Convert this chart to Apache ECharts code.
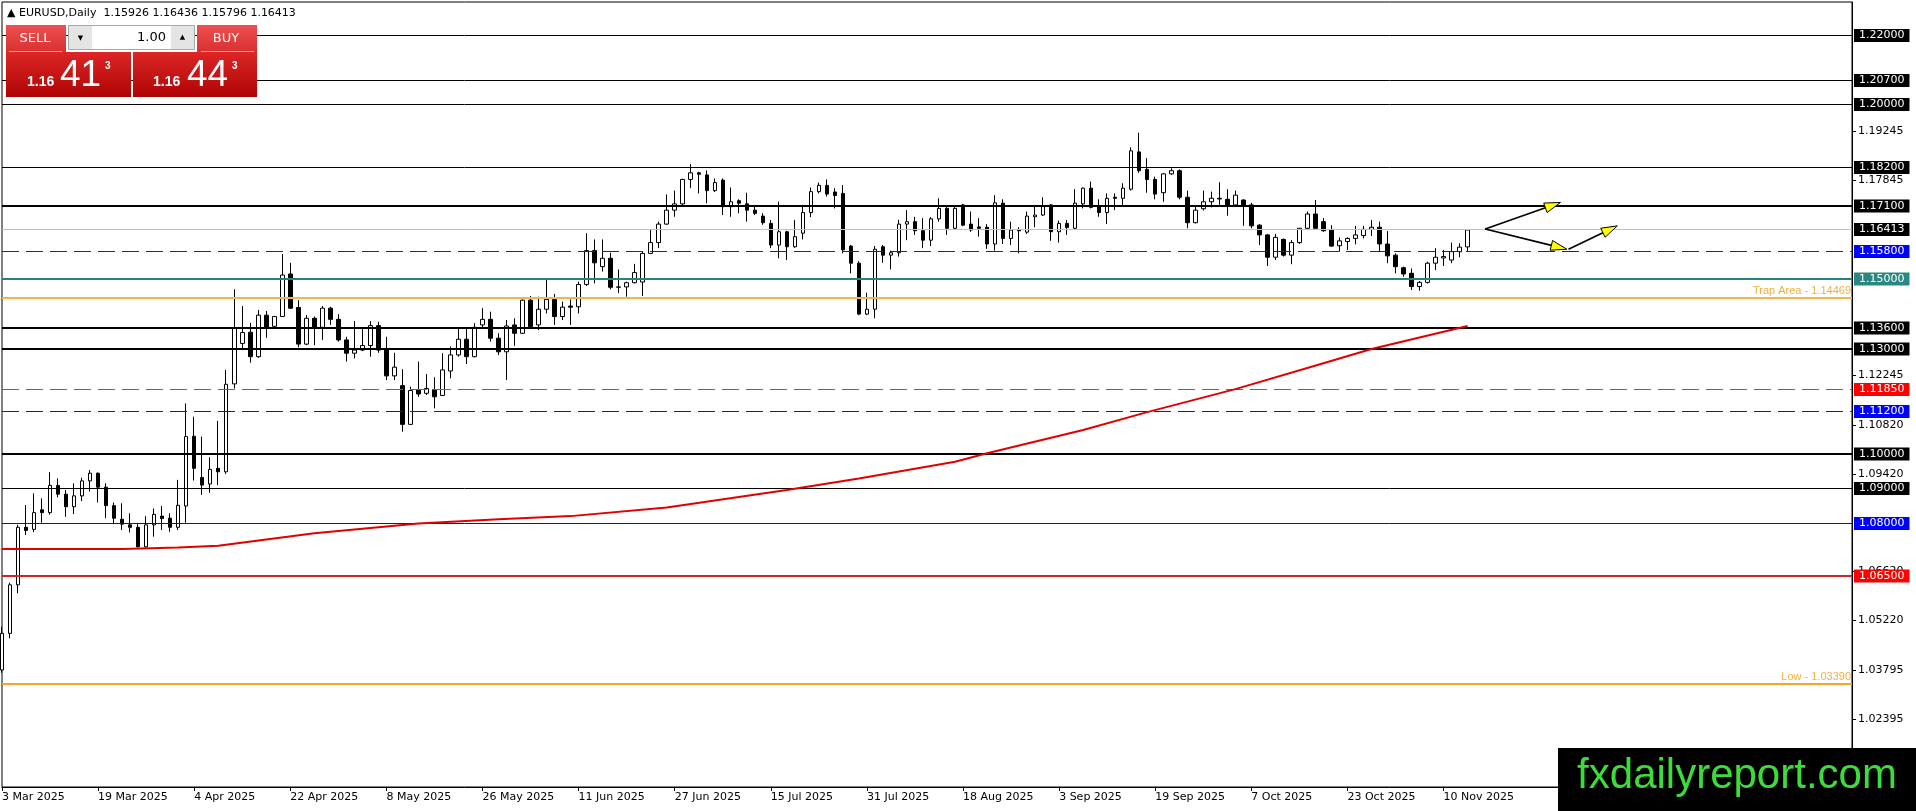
<!DOCTYPE html>
<html>
<head>
<meta charset="utf-8">
<script src="https://cdn.jsdelivr.net/npm/echarts@6.0.0/dist/echarts.min.js"></script>
<style>
  html, body { margin: 0; padding: 0; background: #fff; }
  #main { width: 1916px; height: 811px; }
</style>
</head>
<body>
<div id="main"></div>
<script>
// EURUSD daily bars, 3 Mar 2025 .. 13 Nov 2025 (weekdays)
const symbolName = 'EURUSD';
const periodName = 'Daily';
const firstDay = '2025-03-03';
const slotCount = 232;           // bars + empty space on the right

const openP = [
  1.0380,1.0485,1.0624,1.0789,1.0783,1.0839,1.0831,1.0909,1.0884,1.0848,1.0879,1.0922,
  1.0944,1.0904,1.0851,1.0812,1.0796,1.0789,1.0733,1.0796,1.0821,1.0815,1.0789,1.0850,
  1.1050,1.0932,1.0913,1.0958,1.0948,1.1200,1.1316,1.1348,1.1278,1.1397,1.1365,1.1393,
  1.1515,1.1419,1.1314,1.1388,1.1362,1.1417,1.1385,1.1326,1.1288,1.1297,1.1310,1.1367,
  1.1298,1.1223,1.1195,1.1084,1.1183,1.1173,1.1183,1.1167,1.1237,1.1283,1.1328,1.1278,
  1.1369,1.1385,1.1331,1.1292,1.1369,1.1345,1.1440,1.1369,1.1414,1.1442,1.1393,1.1423,
  1.1421,1.1485,1.1582,1.1536,1.1560,1.1477,1.1478,1.1490,1.1492,1.1574,1.1605,1.1658,
  1.1698,1.1716,1.1786,1.1805,1.1799,1.1754,1.1784,1.1708,1.1725,1.1716,1.1698,1.1681,
  1.1660,1.1598,1.1636,1.1593,1.1632,1.1691,1.1751,1.1769,1.1750,1.1746,1.1595,1.1546,
  1.1400,1.1414,1.1593,1.1569,1.1576,1.1658,1.1665,1.1639,1.1612,1.1673,1.1703,1.1646,
  1.1713,1.1658,1.1650,1.1649,1.1601,1.1718,1.1617,1.1642,1.1635,1.1679,1.1684,1.1713,
  1.1636,1.1660,1.1646,1.1716,1.1761,1.1710,1.1691,1.1735,1.1732,1.1758,1.1865,1.1815,
  1.1786,1.1748,1.1802,1.1811,1.1735,1.1662,1.1702,1.1722,1.1732,1.1729,1.1713,1.1727,
  1.1713,1.1655,1.1627,1.1563,1.1614,1.1569,1.1605,1.1646,1.1687,1.1665,1.1641,1.1596,
  1.1608,1.1617,1.1625,1.1643,1.1649,1.1601,1.1569,1.1533,1.1517,1.1479,1.1491,1.1546,
  1.1561,1.1555,1.1579,1.15926
];
const highP = [
  1.0504,1.0630,1.0796,1.0853,1.0886,1.0872,1.0947,1.0929,1.0896,1.0915,1.0931,1.0953,
  1.0946,1.0915,1.0860,1.0858,1.0829,1.0800,1.0821,1.0843,1.0850,1.0829,1.0925,1.1144,
  1.1106,1.1049,1.0990,1.1094,1.1240,1.1471,1.1423,1.1375,1.1412,1.1409,1.1395,1.1572,
  1.1547,1.1440,1.1397,1.1393,1.1423,1.1421,1.1400,1.1335,1.1380,1.1357,1.1380,1.1378,
  1.1335,1.1289,1.1242,1.1192,1.1264,1.1228,1.1219,1.1288,1.1307,1.1359,1.1359,1.1374,
  1.1417,1.1407,1.1345,1.1383,1.1388,1.1442,1.1452,1.1450,1.1498,1.1458,1.1436,1.1442,
  1.1493,1.1632,1.1614,1.1614,1.1576,1.1528,1.1493,1.1544,1.1579,1.1641,1.1665,1.1743,
  1.1754,1.1788,1.1830,1.1808,1.1812,1.1789,1.1789,1.1763,1.1729,1.1748,1.1708,1.1689,
  1.1670,1.1722,1.1639,1.1670,1.1713,1.1763,1.1777,1.1786,1.1761,1.1770,1.1598,1.1552,
  1.1461,1.1595,1.1598,1.1582,1.1670,1.1698,1.1679,1.1675,1.1678,1.1732,1.1708,1.1710,
  1.1716,1.1694,1.1675,1.1658,1.1741,1.1729,1.1665,1.1649,1.1694,1.1710,1.1735,1.1715,
  1.1668,1.1670,1.1758,1.1763,1.1780,1.1729,1.1746,1.1746,1.1775,1.1878,1.1920,1.1847,
  1.1794,1.1804,1.1818,1.1815,1.1754,1.1708,1.1754,1.1751,1.1778,1.1758,1.1754,1.1729,
  1.1719,1.1658,1.1630,1.1630,1.1617,1.1612,1.1647,1.1694,1.1727,1.1675,1.1655,1.1620,
  1.1620,1.1653,1.1653,1.1670,1.1665,1.1638,1.1574,1.1536,1.1531,1.1495,1.1550,1.1589,
  1.1584,1.1605,1.1603,1.16436
];
const lowP = [
  1.0372,1.0471,1.0600,1.0767,1.0775,1.0802,1.0825,1.0875,1.0819,1.0827,1.0864,1.0891,
  1.0860,1.0815,1.0798,1.0781,1.0774,1.0731,1.0730,1.0762,1.0781,1.0776,1.0781,1.0802,
  1.0923,1.0882,1.0888,1.0910,1.0942,1.1187,1.1297,1.1261,1.1275,1.1332,1.1363,1.1392,
  1.1415,1.1305,1.1311,1.1311,1.1326,1.1369,1.1321,1.1264,1.1273,1.1294,1.1278,1.1289,
  1.1211,1.1211,1.1063,1.1082,1.1163,1.1168,1.1130,1.1165,1.1216,1.1278,1.1257,1.1276,
  1.1360,1.1321,1.1283,1.1211,1.1309,1.1343,1.1359,1.1354,1.1402,1.1369,1.1383,1.1369,
  1.1402,1.1481,1.1488,1.1522,1.1471,1.1460,1.1450,1.1488,1.1452,1.1572,1.1589,1.1656,
  1.1679,1.1707,1.1761,1.1746,1.1718,1.1750,1.1684,1.1679,1.1689,1.1665,1.1684,1.1656,
  1.1589,1.1560,1.1555,1.1590,1.1614,1.1678,1.1746,1.1737,1.1703,1.1574,1.1517,1.1397,
  1.1397,1.1388,1.1547,1.1528,1.1565,1.1612,1.1627,1.1589,1.1595,1.1665,1.1627,1.1641,
  1.1652,1.1636,1.1622,1.1587,1.1582,1.1601,1.1598,1.1574,1.1630,1.1649,1.1681,1.1610,
  1.1605,1.1627,1.1643,1.1703,1.1703,1.1679,1.1658,1.1698,1.1710,1.1754,1.1805,1.1748,
  1.1729,1.1722,1.1799,1.1729,1.1646,1.1660,1.1697,1.1706,1.1713,1.1682,1.1710,1.1653,
  1.1646,1.1598,1.1538,1.1555,1.1565,1.1543,1.1601,1.1641,1.1645,1.1636,1.1593,1.1579,
  1.1584,1.1600,1.1617,1.1624,1.1579,1.1546,1.1517,1.1507,1.1469,1.1467,1.1488,1.1526,
  1.1538,1.1546,1.1563,1.15796
];
const closeP = [
  1.0485,1.0624,1.0789,1.0780,1.0831,1.0831,1.0909,1.0884,1.0848,1.0879,1.0922,1.0944,
  1.0904,1.0851,1.0815,1.0798,1.0789,1.0733,1.0796,1.0826,1.0814,1.0789,1.0852,1.1049,
  1.0958,1.0910,1.0955,1.0948,1.1199,1.1359,1.1347,1.1278,1.1397,1.1362,1.1393,1.1512,
  1.1417,1.1314,1.1388,1.1362,1.1417,1.1385,1.1326,1.1288,1.1297,1.1310,1.1367,1.1297,
  1.1223,1.1248,1.1084,1.1181,1.1171,1.1187,1.1163,1.1240,1.1283,1.1328,1.1278,1.1362,
  1.1385,1.1331,1.1292,1.1366,1.1345,1.1440,1.1364,1.1414,1.1442,1.1393,1.1420,1.1420,
  1.1485,1.1582,1.1547,1.1560,1.1477,1.1478,1.1490,1.1519,1.1574,1.1605,1.1658,1.1698,
  1.1716,1.1786,1.1805,1.1801,1.1754,1.1777,1.1708,1.1722,1.1718,1.1698,1.1689,1.1662,
  1.1598,1.1636,1.1593,1.1622,1.1691,1.1751,1.1769,1.1744,1.1740,1.1584,1.1546,1.1400,
  1.1414,1.1586,1.1569,1.1576,1.1658,1.1665,1.1639,1.1612,1.1673,1.1703,1.1646,1.1703,
  1.1655,1.1641,1.1646,1.1601,1.1719,1.1617,1.1641,1.1639,1.1681,1.1684,1.1710,1.1636,
  1.1660,1.1648,1.1718,1.1761,1.1706,1.1691,1.1732,1.1732,1.1761,1.1868,1.1811,1.1786,
  1.1744,1.1802,1.1811,1.1735,1.1662,1.1698,1.1722,1.1732,1.1730,1.1713,1.1741,1.1713,
  1.1653,1.1627,1.1563,1.1620,1.1569,1.1605,1.1646,1.1687,1.1646,1.1639,1.1595,1.1610,
  1.1617,1.1627,1.1643,1.1649,1.1601,1.1567,1.1536,1.1515,1.1479,1.1491,1.1546,1.1563,
  1.1565,1.1579,1.1592,1.16413
];

// moving average read at a few bars
const maBar   = [0, 15, 22, 27, 39, 52, 62, 71, 83, 98, 107, 119, 123, 135, 143, 154, 165, 171, 183];
const maValue = [1.0727, 1.0727, 1.0731, 1.0736, 1.0772, 1.0800, 1.0812, 1.0821, 1.0846, 1.0896,
                 1.0929, 1.0977, 1.1001, 1.1068, 1.1119, 1.1185, 1.1259, 1.1300, 1.1366];

// horizontal levels
const levelPrices = [1.22000, 1.20700, 1.20000, 1.18200, 1.17100, 1.16413, 1.15800, 1.15000, 1.14469,
                     1.13600, 1.13000, 1.11850, 1.11200, 1.10000, 1.09000, 1.08000, 1.06500, 1.03390];
const levelNotes  = [null, null, null, null, null, null, null, null, 'Trap Area - 1.14469',
                     null, null, null, null, null, null, null, null, 'Low - 1.03390'];
const levelStyles = [
  { color: '#000000', width: 1, box: '#000000' },
  { color: '#000000', width: 1, box: '#000000' },
  { color: '#000000', width: 1, box: '#000000' },
  { color: '#000000', width: 1, box: '#000000' },
  { color: '#000000', width: 2, box: '#000000' },
  { color: '#c0c0c0', width: 1, box: '#000000' },
  { color: '#1c1cb0', width: 1, box: '#0000ff', dash: true },
  { color: '#2a8080', width: 2, box: '#2a8882' },
  { color: '#f0b848', width: 2, note: '#f0b040' },
  { color: '#000000', width: 2, box: '#000000' },
  { color: '#000000', width: 2, box: '#000000' },
  { color: '#d03c3c', width: 1, box: '#ff0000', dash: true },
  { color: '#1a1aa0', width: 1, box: '#0000ff', dash: true },
  { color: '#000000', width: 2, box: '#000000' },
  { color: '#000000', width: 1, box: '#000000' },
  { color: '#1010a0', width: 1, box: '#0000ff' },
  { color: '#d22424', width: 2, box: '#ff0000' },
  { color: '#f5a52a', width: 2, note: '#f5b040' }
];

const priceTicks = [1.19245, 1.17845, 1.12245, 1.10820, 1.09420, 1.06620, 1.05220, 1.03795, 1.02395];
const yMin = 1.00446, yMax = 1.22946;

// arrows: [barFrom, priceFrom, barTo, priceTo]
const arrowSegments = [
  [185.2, 1.1644, 194.6, 1.1720],
  [185.2, 1.1644, 195.4, 1.1586],
  [195.6, 1.1586, 201.7, 1.1653]
];

const bidPrice = 1.16413, askPrice = 1.16443, lotText = '1.00';

// ---------------------------------------------------------------
const monthNames = ['Jan','Feb','Mar','Apr','May','Jun','Jul','Aug','Sep','Oct','Nov','Dec'];
function tradingDays(start, n) {
  const out = [];
  const d = new Date(start + 'T00:00:00Z');
  while (out.length < n) {
    const wd = d.getUTCDay();
    if (wd !== 0 && wd !== 6) {
      out.push(d.getUTCDate() + ' ' + monthNames[d.getUTCMonth()] + ' ' + d.getUTCFullYear());
    }
    d.setUTCDate(d.getUTCDate() + 1);
  }
  return out;
}
const dates = tradingDays(firstDay, slotCount);
const lastBar = openP.length - 1;
const candles = openP.map((o, i) => [o, closeP[i], lowP[i], highP[i]]);
const showDate = (index) => index % 12 === 0 && index <= lastBar;

function crisp(y, w) {
  return w % 2 ? Math.round(y - 0.5) + 0.5 : Math.round(y);
}

function levelItem(params, api) {
  const k = params.dataIndex;
  const s = levelStyles[k];
  const cs = params.coordSys;
  const y = crisp(api.coord([0, levelPrices[k]])[1], s.width);
  const x0 = cs.x, x1 = cs.x + cs.width;
  const children = [{
    type: 'line',
    shape: { x1: x0, y1: y, x2: x1, y2: y },
    style: { stroke: s.color, lineWidth: s.width, lineDash: s.dash ? [17, 7] : null }
  }];
  if (levelNotes[k]) {
    children.push({ type: 'text', x: x1 - 1, y: y - s.width / 2 - 1,
      style: { text: levelNotes[k], fill: s.note, font: '11px "Liberation Sans"',
        align: 'right', textAlign: 'right', verticalAlign: 'bottom', textVerticalAlign: 'bottom' } });
  } else {
    children.push({ type: 'text', x: x1 + 2, y: y,
      style: { text: levelPrices[k].toFixed(5), fill: '#ffffff', backgroundColor: s.box,
        padding: [1, 5, 0, 5], lineHeight: 12, font: '11px "DejaVu Sans"',
        align: 'left', textAlign: 'left', verticalAlign: 'middle', textVerticalAlign: 'middle' } });
  }
  return { type: 'group', children: children };
}

function toPixel(api, x, y) {
  const i = Math.floor(x), f = x - i;
  const a = api.coord([i, y]);
  const b = api.coord([i + 1, y]);
  return [a[0] + (b[0] - a[0]) * f, a[1]];
}

function arrowItem(params, api) {
  const seg = arrowSegments[params.dataIndex];
  const p0 = toPixel(api, seg[0], seg[1]);
  const p1 = toPixel(api, seg[2], seg[3]);
  const dx = p1[0] - p0[0], dy = p1[1] - p0[1];
  const len = Math.sqrt(dx * dx + dy * dy);
  const ux = dx / len, uy = dy / len;
  const head = 16, half = 5;
  const bx = p1[0] - ux * head, by = p1[1] - uy * head;
  return {
    type: 'group',
    children: [
      { type: 'line', shape: { x1: p0[0], y1: p0[1], x2: bx, y2: by },
        style: { stroke: '#000', lineWidth: 1.6 } },
      { type: 'polygon',
        shape: { points: [[p1[0], p1[1]], [bx - uy * half, by + ux * half], [bx + uy * half, by - ux * half]] },
        style: { fill: '#ffff00', stroke: '#000', lineWidth: 1 } }
    ]
  };
}

// one-click trading panel
const bidStr = bidPrice.toFixed(5), askStr = askPrice.toFixed(5);
const topGrad = new echarts.graphic.LinearGradient(0, 0, 0, 1, [
  { offset: 0, color: '#ee5050' }, { offset: 1, color: '#d83030' }]);
const priceGrad = new echarts.graphic.LinearGradient(0, 0, 0, 1, [
  { offset: 0, color: '#dd2626' }, { offset: 1, color: '#b00404' }]);
function txt(x, y, text, font, align, color) {
  return { type: 'text', x: x, y: y, z: 102, silent: true,
    style: { text: text, font: font, fill: color || '#fff',
      align: align || 'left', textAlign: align || 'left',
      verticalAlign: 'middle', textVerticalAlign: 'middle' } };
}
const panel = [
  { type: 'rect', z: 100, shape: { x: 6, y: 25, width: 60, height: 27 }, style: { fill: topGrad } },
  { type: 'rect', z: 100, shape: { x: 197, y: 25, width: 60, height: 27 }, style: { fill: topGrad } },
  { type: 'rect', z: 100, shape: { x: 6, y: 52, width: 125, height: 45 }, style: { fill: priceGrad } },
  { type: 'rect', z: 100, shape: { x: 133, y: 52, width: 124, height: 45 }, style: { fill: priceGrad } },
  { type: 'line', z: 101, shape: { x1: 9, y1: 51.5, x2: 62, y2: 51.5 }, style: { stroke: '#f5a0a0', lineWidth: 1 } },
  { type: 'line', z: 101, shape: { x1: 201, y1: 51.5, x2: 254, y2: 51.5 }, style: { stroke: '#f5a0a0', lineWidth: 1 } },
  { type: 'rect', z: 100, shape: { x: 68.5, y: 25.5, width: 126, height: 24 }, style: { fill: '#ffffff', stroke: '#a8a8a8', lineWidth: 1 } },
  { type: 'rect', z: 101, shape: { x: 69, y: 26, width: 23, height: 23 }, style: { fill: '#e4e4e4' } },
  { type: 'rect', z: 101, shape: { x: 171, y: 26, width: 23, height: 23 }, style: { fill: '#e4e4e4' } },
  txt(80.5, 38, '\u25BC', '7px "DejaVu Sans"', 'center', '#000'),
  txt(182.5, 37, '\u25B2', '7px "DejaVu Sans"', 'center', '#000'),
  txt(166, 38, lotText, '13px "DejaVu Sans"', 'right', '#000'),
  txt(35, 39, 'SELL', '13px "DejaVu Sans"', 'center'),
  txt(226, 39, 'BUY', '13px "DejaVu Sans"', 'center'),
  txt(27, 82, bidStr.slice(0, 4), 'bold 14px "Liberation Sans"'),
  txt(60, 75.5, bidStr.slice(4, 6), '37px "Liberation Sans"'),
  txt(105, 66, bidStr.slice(6), 'bold 10px "Liberation Sans"'),
  txt(153, 82, askStr.slice(0, 4), 'bold 14px "Liberation Sans"'),
  txt(187, 75.5, askStr.slice(4, 6), '37px "Liberation Sans"'),
  txt(232, 66, askStr.slice(6), 'bold 10px "Liberation Sans"')
];

const headerText = '\u25B2 ' + symbolName + ',' + periodName + '  ' +
  [openP[lastBar], highP[lastBar], lowP[lastBar], closeP[lastBar]].map(v => v.toFixed(5)).join(' ');

const chart = echarts.init(document.getElementById('main'), null, { renderer: 'canvas', width: 1916, height: 811 });

const option = {
  animation: false,
  backgroundColor: '#ffffff',
  textStyle: { fontFamily: 'DejaVu Sans' },
  grid: {
    left: 2, top: 2, width: 1850, height: 785,
    show: true, borderColor: '#000', borderWidth: 1, backgroundColor: '#ffffff',
    containLabel: false, outerBoundsMode: 'none'
  },
  xAxis: {
    type: 'category',
    data: dates,
    boundaryGap: false,
    axisLine: { show: true, lineStyle: { color: '#000', width: 1 } },
    axisTick: { show: true, interval: showDate, length: 4, lineStyle: { color: '#000' } },
    axisLabel: { interval: showDate, align: 'left', color: '#000', fontSize: 11, margin: 5, hideOverlap: false },
    splitLine: { show: false }
  },
  yAxis: {
    type: 'value',
    position: 'right',
    min: yMin, max: yMax,
    splitLine: { show: false },
    axisLine: { show: true, lineStyle: { color: '#000', width: 1 } },
    axisTick: { show: true, customValues: priceTicks, length: 4, lineStyle: { color: '#000' } },
    axisLabel: { customValues: priceTicks, formatter: v => v.toFixed(5), color: '#000', fontSize: 11, margin: 6 }
  },
  series: [
    {
      name: symbolName,
      type: 'candlestick',
      data: candles,
      barWidth: 4,
      z: 2,
      silent: true,
      itemStyle: {
        color: '#ffffff', color0: '#000000',
        borderColor: '#000000', borderColor0: '#000000', borderColorDoji: '#000000',
        borderWidth: 1
      }
    },
    {
      name: 'levels',
      type: 'custom',
      data: levelPrices.map(p => [0, p]),
      encode: { x: 0, y: 1 },
      z: 3,
      clip: false,
      silent: true,
      renderItem: levelItem
    },
    {
      name: 'MA',
      type: 'line',
      data: maBar.map((b, k) => [b, maValue[k]]),
      symbol: 'none',
      smooth: false,
      z: 4,
      silent: true,
      lineStyle: { color: '#e00000', width: 2 }
    },
    {
      name: 'arrows',
      type: 'custom',
      data: arrowSegments.map(s => [Math.round(s[0]), s[1]]),
      encode: { x: 0, y: 1 },
      z: 5,
      clip: false,
      silent: true,
      renderItem: arrowItem
    }
  ],
  graphic: {
    elements: panel.concat([
      { type: 'text', x: 7, y: 13, z: 102, silent: true,
        style: { text: headerText, font: '11px "DejaVu Sans"', fill: '#000',
          align: 'left', textAlign: 'left', verticalAlign: 'middle', textVerticalAlign: 'middle' } },
      { type: 'rect', z: 110, shape: { x: 1558, y: 748, width: 358, height: 63 }, style: { fill: '#000' } },
      { type: 'text', x: 1737, y: 776, z: 111, silent: true,
        style: { text: 'fxdailyreport.com', font: '42px "Liberation Sans"', fill: '#3cdc3c',
          align: 'center', textAlign: 'center', verticalAlign: 'middle', textVerticalAlign: 'middle' } }
    ])
  }
};

chart.setOption(option);
</script>
</body>
</html>
